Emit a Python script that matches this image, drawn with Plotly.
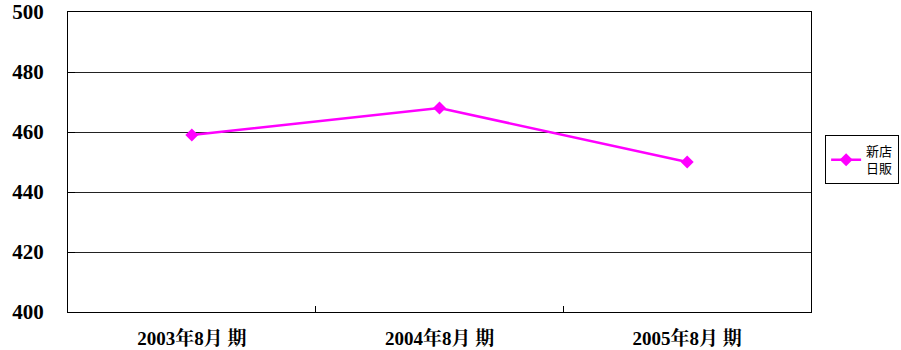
import plotly.graph_objects as go

# Daily sales of new stores by fiscal period
periods = ["2003年8月 期", "2004年8月 期", "2005年8月 期"]
daily_sales = [459, 468, 450]
series_name = "新店<br>日販"
y_ticks = [400, 420, 440, 460, 480, 500]

fig = go.Figure()
fig.add_trace(go.Scatter(
    x=periods,
    y=daily_sales,
    mode="lines+markers",
    name=series_name,
    line=dict(color="#FF00FF", width=2.5),
    marker=dict(symbol="diamond", size=10, color="#FF00FF"),
))

fig.update_layout(
    width=901,
    height=350,
    margin=dict(l=68, r=90, t=12, b=38, autoexpand=False),
    paper_bgcolor="white",
    plot_bgcolor="white",
    showlegend=True,
    legend=dict(
        x=1.019, xanchor="left",
        y=0.507, yanchor="middle",
        bordercolor="black", borderwidth=1,
        bgcolor="white",
        font=dict(family="Noto Sans CJK JP", size=13, color="black"),
        tracegroupgap=0,
        itemwidth=30,
    ),
    xaxis=dict(
        type="category",
        range=[-0.5, 2.5],
        tickson="boundaries",
        ticks="inside",
        ticklen=6,
        tickcolor="black",
        showgrid=False,
        showline=True,
        linecolor="black",
        linewidth=1,
        mirror=True,
        automargin=False,
        tickfont=dict(family="Liberation Serif, Noto Serif CJK JP, Noto Sans CJK JP", size=19, color="black", weight="bold"),
        ticklabelstandoff=9,
    ),
    yaxis=dict(
        range=[400, 500],
        tickvals=y_ticks,
        ticks="inside",
        ticklen=7,
        tickcolor="black",
        showgrid=True,
        gridcolor="#222",
        gridwidth=1,
        showline=True,
        linecolor="black",
        linewidth=1,
        mirror=True,
        zeroline=False,
        automargin=False,
        tickfont=dict(family="Liberation Serif", size=21, color="black", weight="bold"),
        ticklabelstandoff=19,
    ),
)

fig.write_html("out.html")
